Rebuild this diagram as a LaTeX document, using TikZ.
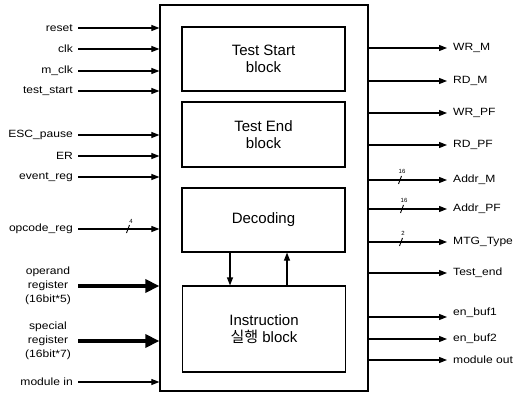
\documentclass[tikz,border=0pt]{standalone}
\usepackage{fontspec}
\setmainfont{Liberation Sans}
\newfontfamily\widefont{Liberation Sans}[FakeStretch=1.15]
\newfontfamily\krfont{Noto Sans CJK KR}
\usetikzlibrary{arrows.meta}
\begin{document}
\begin{tikzpicture}[x=1pt,y=-1pt,
  blk/.style={draw, line width=1.1pt, minimum width=163pt, inner sep=0pt, align=center, font=\fontsize{15}{16.5}\selectfont},
  inl/.style={anchor=east, inner sep=1pt, align=center, font=\widefont\fontsize{10.5}{14}\selectfont},
  outl/.style={anchor=west, inner sep=1pt, font=\widefont\fontsize{10.5}{12}\selectfont},
  sig/.style={line width=1.1pt, -{Triangle[length=8pt,width=6pt]}},
  thick bus/.style={line width=4.5pt, -{Triangle[length=14pt,width=13pt]}},
  slashmark/.style={line width=0.9pt},
  buslbl/.style={inner sep=0pt, font=\fontsize{6}{7}\selectfont}
]
\useasboundingbox (0,0) rectangle (519,393);
\fill[white] (0,0) rectangle (519,393);

% outer box
\node[draw, line width=1.3pt, minimum width=208pt, minimum height=386pt, inner sep=0pt] (outer) at (264,198) {};

% inner blocks
\node[blk, minimum height=64pt] (ts) at (263.5,59) {Test Start\\block};
\node[blk, minimum height=65pt] (te) at (263.5,134.5) {Test End\\block};
\node[blk, minimum height=64pt] (dec) at (263.5,220) {Decoding};
\node[blk, minimum height=86pt] (ins) at (264,329) {Instruction\\{\krfont 실행} block};

\draw[sig] (dec.south -| 230,0) -- (ins.north -| 230,0);
\draw[sig] (ins.north -| 287,0) -- (dec.south -| 287,0);

% inputs
\foreach \nm/\txt/\yy in {ireset/reset/28, iclk/clk/49, imclk/m\_clk/71, itest/test\_start/91,
  iesc/ESC\_pause/135, ier/ER/156, iev/event\_reg/177, iop/opcode\_reg/229, imod/module in/382}{
  \node[inl] (\nm) at (74,\yy) {\txt};
  \draw[sig] ([xshift=4pt]\nm.east) -- (\nm.east -| outer.west);
}
\node[inl] (ioper) at (72,286) {operand\\register\\(16bit*5)};
\draw[thick bus] ([xshift=6pt]ioper.east) -- (ioper.east -| outer.west);
\node[inl] (ispec) at (72,341) {special\\register\\(16bit*7)};
\draw[thick bus] ([xshift=6pt]ispec.east) -- (ispec.east -| outer.west);

% opcode bus slash
\draw[slashmark] (126.5,233) -- (129.5,225);
\node[buslbl] (op4) at (131,221.5) {4};

% outputs
\foreach \nm/\txt/\yy in {owrm/WR\_M/48, ordm/RD\_M/81, owrpf/WR\_PF/113, ordpf/RD\_PF/145,
  oaddrm/Addr\_M/180, oaddrpf/Addr\_PF/209, omtg/MTG\_Type/242, otend/Test\_end/273,
  oen2/en\_buf2/339, omod/module out/360}{
  \node[outl] (\nm) at (452,\yy) {\txt};
  \draw[sig] (\nm.west -| outer.east) -- ([xshift=-5pt]\nm.west);
}
\node[outl] (oen1) at (452,313) {en\_buf1};
\coordinate (oen1end) at (447,317);
\draw[sig] (oen1end -| outer.east) -- (oen1end);

% output bus slashes
\draw[slashmark] (398.5,184) -- (401.5,176);
\node[buslbl] (am16) at (402,171.5) {16};
\draw[slashmark] (400.5,213) -- (403.5,205);
\node[buslbl] (apf16) at (404,200.5) {16};
\draw[slashmark] (399.5,246) -- (402.5,238);
\node[buslbl] (mtg2) at (403,233.5) {2};
\end{tikzpicture}
\end{document}
